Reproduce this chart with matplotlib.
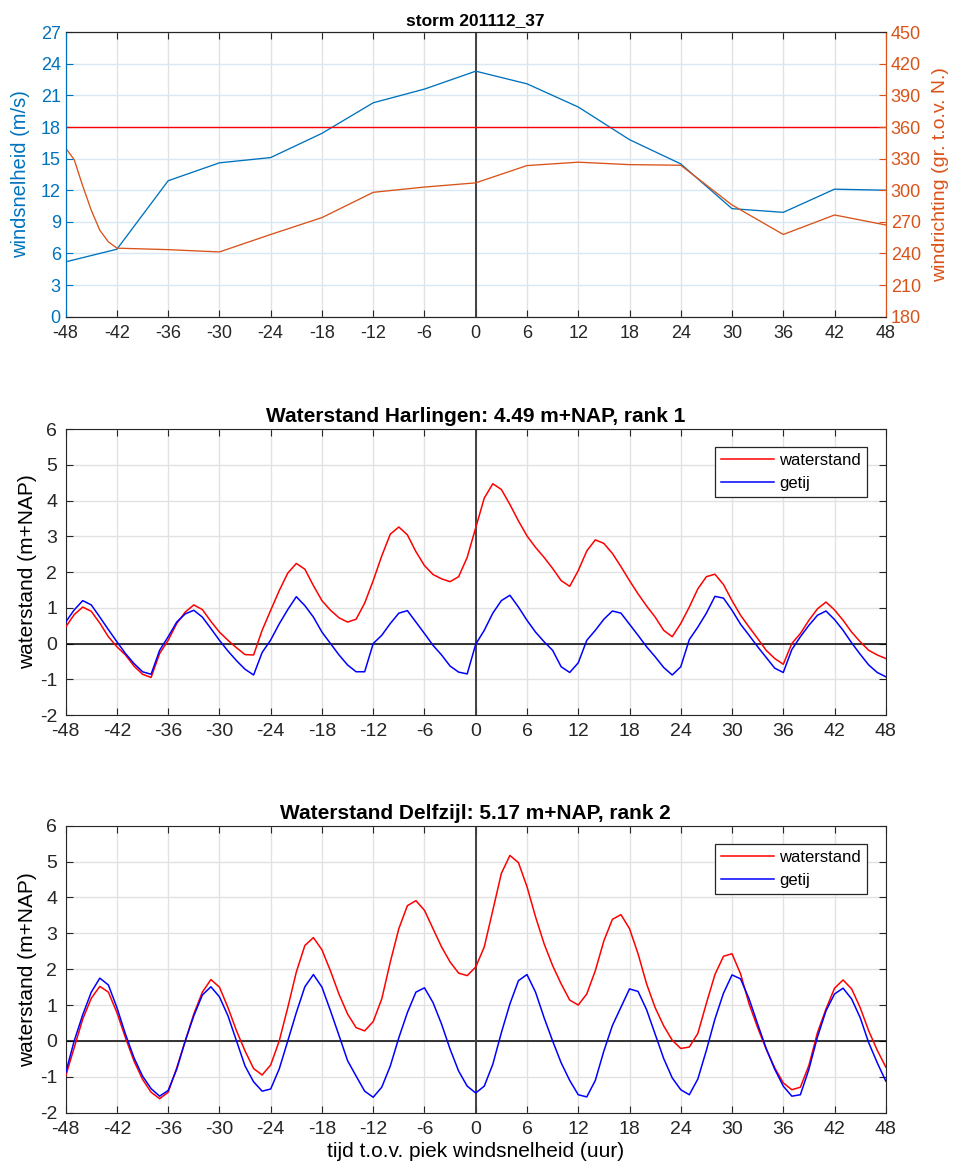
import numpy as np
import matplotlib
matplotlib.use("Agg")
import matplotlib.pyplot as plt

plt.rcParams['font.family'] = ['Liberation Sans', 'DejaVu Sans']
plt.rcParams['axes.unicode_minus'] = False

COLOR_SPEED = "#0072BD"
COLOR_DIR = "#D95319"
COLOR_AX = "#262626"
COLOR_GRID = "#e2e2e2"

# --- top panel: wind
wind_hours = [-48, -42, -36, -30, -24, -18, -12, -6, 0, 6, 12, 18, 24, 30, 36, 42, 48]
wind_speed = [5.2, 6.4, 12.9, 14.6, 15.1, 17.4, 20.3, 21.6, 23.3,
              22.1, 19.9, 16.8, 14.5, 10.25, 9.9, 12.1, 12.0]
dir_hours = [-48, -47, -46, -45, -44, -43, -42, -36, -30, -24, -18, -12, -6, 0,
             6, 12, 18, 24, 30, 36, 42, 48]
wind_dir = [340, 329, 304, 281, 262, 251, 245, 243.6, 241.4, 258, 274, 298, 303, 307,
            323.4, 326.6, 324.3, 323.7, 286, 258, 276.5, 267]
speed_threshold = 18

# --- hourly water levels, -48 .. 48 h
hours = np.arange(-48, 49)
harlingen_getij = [
    0.60, 0.94, 1.20, 1.08, 0.74, 0.39, 0.05, -0.28, -0.56, -0.79, -0.86, -0.19,
    0.19, 0.60, 0.83, 0.93, 0.74, 0.42, 0.09, -0.21, -0.48, -0.72, -0.88, -0.25,
    0.10, 0.55, 0.95, 1.31, 1.06, 0.74, 0.32, 0.00, -0.32, -0.60, -0.79, -0.79,
    0.00, 0.23, 0.56, 0.85, 0.92, 0.60, 0.28, -0.05, -0.32, -0.63, -0.80, -0.85,
    -0.02, 0.37, 0.85, 1.20, 1.35, 1.02, 0.65, 0.32, 0.05, -0.19, -0.65, -0.81,
    -0.54, 0.09, 0.37, 0.68, 0.91, 0.85, 0.54, 0.23, -0.09, -0.37, -0.67, -0.88,
    -0.65, 0.11, 0.46, 0.85, 1.32, 1.27, 0.93, 0.54, 0.23, -0.09, -0.39, -0.69,
    -0.81, -0.17, 0.19, 0.51, 0.79, 0.91, 0.67, 0.37, 0.02, -0.30, -0.60, -0.81,
    -0.93]
harlingen_water = [
    0.46, 0.81, 1.02, 0.90, 0.57, 0.19, -0.09, -0.32, -0.63, -0.86, -0.95, -0.28,
    0.09, 0.56, 0.88, 1.08, 0.95, 0.62, 0.32, 0.09, -0.12, -0.31, -0.32, 0.37,
    0.93, 1.48, 1.97, 2.24, 2.08, 1.62, 1.20, 0.93, 0.72, 0.60, 0.68, 1.13,
    1.76, 2.45, 3.06, 3.26, 3.04, 2.57, 2.18, 1.93, 1.81, 1.73, 1.87, 2.41,
    3.24, 4.07, 4.47, 4.31, 3.89, 3.43, 3.01, 2.69, 2.41, 2.10, 1.76, 1.60,
    2.04, 2.59, 2.90, 2.80, 2.52, 2.15, 1.76, 1.39, 1.05, 0.74, 0.37, 0.19,
    0.56, 1.02, 1.53, 1.87, 1.94, 1.65, 1.20, 0.79, 0.46, 0.14, -0.19, -0.42,
    -0.58, 0.00, 0.28, 0.65, 0.97, 1.16, 0.94, 0.65, 0.32, 0.05, -0.19, -0.32,
    -0.42]
delfzijl_getij = [
    -0.89, 0.00, 0.73, 1.36, 1.75, 1.56, 0.93, 0.19, -0.47, -0.98, -1.33, -1.54,
    -1.38, -0.79, 0.00, 0.70, 1.28, 1.51, 1.23, 0.70, 0.00, -0.70, -1.14, -1.40,
    -1.34, -0.78, 0.00, 0.79, 1.51, 1.85, 1.50, 0.84, 0.15, -0.55, -0.98, -1.40,
    -1.57, -1.29, -0.70, 0.09, 0.79, 1.36, 1.48, 1.07, 0.47, -0.23, -0.84, -1.26,
    -1.45, -1.26, -0.65, 0.23, 1.03, 1.68, 1.85, 1.36, 0.65, 0.00, -0.61, -1.10,
    -1.50, -1.56, -1.10, -0.28, 0.43, 0.94, 1.45, 1.38, 0.87, 0.19, -0.49, -1.03,
    -1.36, -1.50, -1.06, -0.26, 0.61, 1.33, 1.84, 1.73, 1.17, 0.47, -0.21, -0.79,
    -1.26, -1.54, -1.50, -0.79, 0.11, 0.84, 1.31, 1.47, 1.17, 0.65, -0.05, -0.61,
    -1.12]
delfzijl_water = [
    -0.98, -0.19, 0.61, 1.19, 1.52, 1.36, 0.79, 0.09, -0.56, -1.07, -1.43, -1.61,
    -1.43, -0.75, 0.00, 0.75, 1.36, 1.71, 1.50, 0.93, 0.28, -0.28, -0.77, -0.95,
    -0.67, 0.00, 0.93, 1.92, 2.66, 2.88, 2.54, 1.95, 1.30, 0.75, 0.37, 0.28,
    0.54, 1.17, 2.20, 3.13, 3.77, 3.91, 3.64, 3.13, 2.62, 2.20, 1.89, 1.82,
    2.06, 2.62, 3.64, 4.67, 5.17, 4.97, 4.30, 3.46, 2.71, 2.10, 1.59, 1.14,
    1.00, 1.31, 1.96, 2.79, 3.39, 3.52, 3.13, 2.43, 1.59, 0.93, 0.42, 0.02,
    -0.21, -0.17, 0.21, 1.05, 1.85, 2.36, 2.43, 1.87, 1.03, 0.37, -0.23, -0.75,
    -1.17, -1.36, -1.29, -0.68, 0.23, 0.89, 1.47, 1.70, 1.45, 0.93, 0.28, -0.26,
    -0.73]

xticks = list(range(-48, 49, 6))
FS_TOP = 13
FS = 14

fig = plt.figure(figsize=(9.57, 11.71), dpi=100)

# ---------------- top panel
ax1 = fig.add_axes([0.0686, 0.7296, 0.857, 0.2429])
ax2 = ax1.twinx()
ax1.set_xlim(-48, 48)
ax1.set_ylim(0, 27)
ax1.set_yticks(range(0, 28, 3))
ax2.set_ylim(180, 450)
ax2.set_yticks(range(180, 451, 30))
ax1.set_xticks(xticks)
ax1.xaxis.grid(True, color=COLOR_GRID, lw=1.0)
ax1.yaxis.grid(True, color="#d8e8f4", lw=1.0)
ax1.set_axisbelow(True)
ax1.plot(wind_hours, wind_speed, color=COLOR_SPEED, lw=0.95, zorder=3)
ax1.axhline(speed_threshold, color="#ff0000", lw=1.0, zorder=3)
ax1.axvline(0, color="#404040", lw=1.4, zorder=2)
ax2.plot(dir_hours, wind_dir, color=COLOR_DIR, lw=0.95)
ax1.tick_params(axis="x", direction="in", top=True, length=5, colors=COLOR_AX,
                labelsize=FS_TOP, pad=6, labelcolor=COLOR_AX)
ax1.tick_params(axis="y", direction="in", length=5, colors=COLOR_SPEED, labelsize=FS_TOP)
ax2.tick_params(axis="y", direction="in", length=5, colors=COLOR_DIR, labelsize=FS_TOP)
for s in ("top", "bottom"):
    ax1.spines[s].set_color(COLOR_AX)
    ax2.spines[s].set_color(COLOR_AX)
ax1.spines["left"].set_color(COLOR_SPEED)
ax2.spines["left"].set_color(COLOR_SPEED)
ax1.spines["right"].set_color(COLOR_DIR)
ax2.spines["right"].set_color(COLOR_DIR)
ax1.set_ylabel("windsnelheid (m/s)", color=COLOR_SPEED, fontsize=14.5, labelpad=8)
ax2.set_ylabel("windrichting (gr. t.o.v. N.)", color=COLOR_DIR, fontsize=14, labelpad=8)
ax1.set_title("storm 201112_37", fontsize=12.5, fontweight="bold", pad=5)


def water_panel(rect, title, water, getij, xlabel=None):
    ax = fig.add_axes(rect)
    ax.set_xlim(-48, 48)
    ax.set_ylim(-2, 6)
    ax.set_xticks(xticks)
    ax.set_yticks(range(-2, 7))
    ax.grid(True, color=COLOR_GRID, lw=1.0)
    ax.set_axisbelow(True)
    ax.axhline(0, color="black", lw=1.1, zorder=2)
    ax.axvline(0, color="#404040", lw=1.4, zorder=2)
    ax.plot(hours, water, color="#ff0000", lw=1.1, label="waterstand", zorder=3)
    ax.plot(hours, getij, color="#0000ff", lw=1.1, label="getij", zorder=3)
    ax.tick_params(direction="in", top=True, right=True, length=5, colors=COLOR_AX,
                   labelsize=FS, pad=6)
    for s in ax.spines.values():
        s.set_color(COLOR_AX)
    ax.set_ylabel("waterstand (m+NAP)", fontsize=15, labelpad=2)
    ax.set_title(title, fontsize=15, fontweight="bold", pad=5)
    leg = ax.legend(loc="upper right", bbox_to_anchor=(1 - 19 / 820, 1 - 18 / 286),
                    borderaxespad=0, fancybox=False, edgecolor=COLOR_AX,
                    fontsize=12, handlelength=3.2, handletextpad=0.3,
                    borderpad=0.35, framealpha=1)
    leg.get_frame().set_linewidth(0.9)
    if xlabel:
        ax.set_xlabel(xlabel, fontsize=15, labelpad=3)
    return ax


water_panel([0.0686, 0.3894, 0.857, 0.2442],
            "Waterstand Harlingen: 4.49 m+NAP, rank 1",
            harlingen_water, harlingen_getij)
water_panel([0.0686, 0.0498, 0.857, 0.2451],
            "Waterstand Delfzijl: 5.17 m+NAP, rank 2",
            delfzijl_water, delfzijl_getij,
            xlabel="tijd t.o.v. piek windsnelheid (uur)")

fig.savefig("out.png", dpi=100)
